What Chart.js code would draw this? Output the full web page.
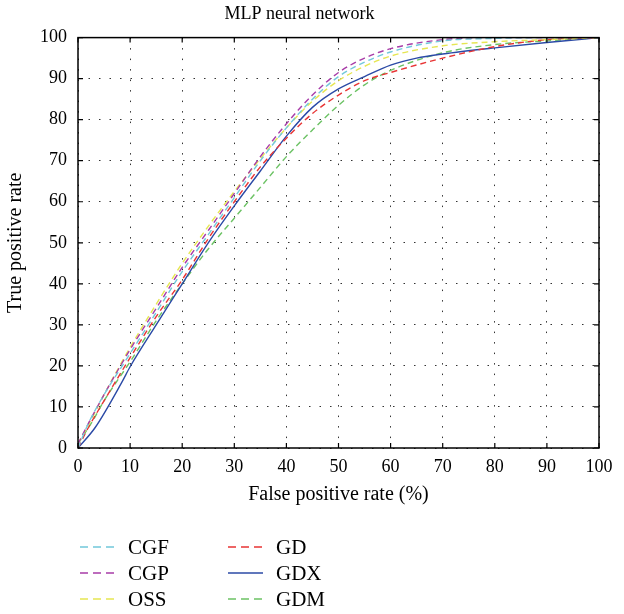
<!DOCTYPE html>
<html>
<head>
<meta charset="utf-8">
<script src="https://cdn.jsdelivr.net/npm/chart.js@4.4.0/dist/chart.umd.min.js"></script>
<style>
  html, body { margin: 0; padding: 0; background: #fff; }
  #wrap { width: 624px; height: 614px; }
</style>
</head>
<body>
<div id="wrap"><canvas id="roc-chart" width="624" height="614"></canvas></div>
<script>
const seriesNames = ['CGF', 'CGP', 'OSS', 'GD', 'GDX', 'GDM'];
const seriesColors = ['#72c8da', '#a83ca8', '#e6e652', '#e83434', '#2b4aa6', '#6cc264'];
const seriesDashed = [true, true, true, true, false, true];

const xTicks = [0, 10, 20, 30, 40, 50, 60, 70, 80, 90, 100];
const yTicks = [0, 10, 20, 30, 40, 50, 60, 70, 80, 90, 100];

// false positive rate (x) and true positive rate (y)
const cgfX = [0, 2, 5, 10, 15, 20, 25, 30, 35, 40, 45, 50, 55, 60, 70, 80, 90, 100];
const cgfY = [0, 6, 13, 23, 33, 43, 52, 61, 70, 78, 85, 90.5, 94, 96.5, 99.2, 99.8, 100, 100];
const cgpX = [0, 2, 5, 10, 15, 20, 25, 30, 35, 40, 45, 50, 55, 60, 70, 80, 100];
const cgpY = [1, 6, 13, 24, 34, 44, 53, 62, 71, 79, 86, 91.5, 95, 97.3, 99.5, 100, 100];
const ossX = [0, 3, 5, 10, 15, 20, 25, 30, 35, 40, 45, 50, 55, 60, 70, 80, 90, 100];
const ossY = [1, 8, 13, 24.5, 35, 45, 54, 62.5, 70.5, 78, 84.5, 89.5, 93, 95.5, 98, 99, 99.5, 100];
const gdX = [0, 2, 5, 10, 15, 20, 25, 30, 35, 40, 45, 50, 55, 60, 70, 80, 90, 100];
const gdY = [0, 5, 11.5, 22, 32, 41, 51, 60, 68.5, 75.5, 81.5, 86, 89.5, 91.5, 95, 97.8, 99.5, 100];
const gdxX = [0, 3.3, 8.4, 10, 15, 20, 25, 30, 35, 40, 45, 50, 55, 60, 65, 70, 80, 90, 100];
const gdxY = [0, 5, 16, 19.8, 30, 40, 50, 59, 67.5, 76, 83, 87.5, 90.5, 93.3, 95, 96, 97.5, 98.8, 100];
const gdmX = [0, 3, 5, 10, 15, 20, 25, 30, 35, 40, 45, 50, 55, 60, 70, 80, 90, 100];
const gdmY = [1, 7, 11.5, 21, 31, 40, 48.5, 56, 63.5, 71, 77.5, 83.5, 88.5, 92, 96.3, 98.3, 99.2, 100];

const allX = [cgfX, cgpX, ossX, gdX, gdxX, gdmX];
const allY = [cgfY, cgpY, ossY, gdY, gdxY, gdmY];

const serif = "'Liberation Serif', 'DejaVu Serif', serif";

function toPoints(xs, ys) {
  return xs.map((x, i) => ({ x: x, y: ys[i] }));
}

// frame with inward tick marks on all four sides
const framePlugin = {
  id: 'frame',
  afterDatasetsDraw(chart) {
    const { ctx, chartArea: a, scales } = chart;
    ctx.save();
    ctx.strokeStyle = '#000';
    ctx.lineWidth = 1.5;
    ctx.strokeRect(a.left, a.top, a.right - a.left, a.bottom - a.top);
    ctx.lineWidth = 1.2;
    ctx.beginPath();
    xTicks.forEach(v => {
      const px = scales.x.getPixelForValue(v);
      ctx.moveTo(px, a.bottom); ctx.lineTo(px, a.bottom - 5);
      ctx.moveTo(px, a.top); ctx.lineTo(px, a.top + 5);
    });
    yTicks.forEach(v => {
      const py = scales.y.getPixelForValue(v);
      ctx.moveTo(a.left, py); ctx.lineTo(a.left + 5, py);
      ctx.moveTo(a.right, py); ctx.lineTo(a.right - 5, py);
    });
    ctx.stroke();
    ctx.restore();
  }
};

// two-column legend under the axis title
const legendPlugin = {
  id: 'colLegend',
  afterDraw(chart) {
    const ctx = chart.ctx;
    ctx.save();
    ctx.font = '21px ' + serif;
    ctx.textBaseline = 'middle';
    ctx.fillStyle = '#000';
    chart.data.datasets.forEach((ds, i) => {
      const col = Math.floor(i / 3);
      const row = i % 3;
      const x0 = 80 + col * 148;
      const y0 = 547 + row * 26;
      ctx.strokeStyle = ds.borderColor;
      ctx.lineWidth = 1.5;
      ctx.setLineDash(ds.borderDash.length ? [8, 5] : []);
      ctx.beginPath();
      ctx.moveTo(x0, y0);
      ctx.lineTo(x0 + 35, y0);
      ctx.stroke();
      ctx.setLineDash([]);
      ctx.fillText(ds.label, x0 + 48, y0 + 1);
    });
    ctx.restore();
  }
};

new Chart(document.getElementById('roc-chart').getContext('2d'), {
  type: 'line',
  data: {
    datasets: seriesNames.map((name, i) => ({
      label: name,
      data: toPoints(allX[i], allY[i]),
      borderColor: seriesColors[i],
      backgroundColor: seriesColors[i],
      borderWidth: 1.4,
      borderDash: seriesDashed[i] ? [6, 4] : [],
      pointRadius: 0,
      cubicInterpolationMode: 'monotone',
      fill: false
    }))
  },
  options: {
    responsive: false,
    animation: false,
    layout: { padding: { left: 0, right: 25, top: 0, bottom: 104 } },
    plugins: {
      legend: { display: false },
      tooltip: { enabled: false },
      title: {
        display: true,
        text: 'MLP neural network',
        color: '#000',
        font: { family: serif, size: 18, weight: 'normal' },
        padding: { top: 3, bottom: 13 }
      }
    },
    scales: {
      x: {
        type: 'linear',
        min: 0,
        max: 100,
        afterFit: s => { s.height = 62; },
        afterBuildTicks: s => { s.ticks = xTicks.map(v => ({ value: v })); },
        ticks: { color: '#000', padding: 8, maxRotation: 0, font: { family: serif, size: 18 } },
        grid: { color: '#333', lineWidth: 1, drawTicks: false },
        border: { display: false, dash: [1.5, 9] },
        title: {
          display: true,
          text: 'False positive rate (%)',
          color: '#000',
          font: { family: serif, size: 20 },
          padding: { top: 0, bottom: 3 }
        }
      },
      y: {
        type: 'linear',
        min: 0,
        max: 100,
        afterFit: s => { s.width = 78; },
        afterBuildTicks: s => { s.ticks = yTicks.map(v => ({ value: v })); },
        ticks: { color: '#000', padding: 11, font: { family: serif, size: 18 } },
        grid: { color: '#333', lineWidth: 1, drawTicks: false },
        border: { display: false, dash: [1.5, 9] },
        title: {
          display: true,
          text: 'True positive rate',
          color: '#000',
          font: { family: serif, size: 20 },
          padding: { top: 4, bottom: 0 }
        }
      }
    }
  },
  plugins: [framePlugin, legendPlugin]
});
</script>
</body>
</html>
